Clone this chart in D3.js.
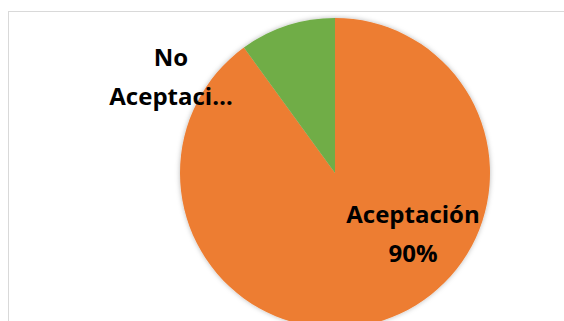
<!DOCTYPE html>
<html>
<head>
<meta charset="utf-8">
<script src="https://cdn.jsdelivr.net/npm/d3@7"></script>
<style>
  html, body { margin: 0; padding: 0; background: #fff; overflow: hidden; }
  svg { display: block; }
</style>
</head>
<body>
<script>
// chart data
const categories = ['Aceptación', 'No Aceptación'];
const values = [90, 10];
const colors = ['#ED7D31', '#70AD47'];
// visible label lines as drawn in the reference (second one is cut off)
const labelLines = [['Aceptación', '90%'], ['No', 'Aceptaci…']];

const width = 564, height = 321;
const cx = 335, cy = 173, radius = 155;

const svg = d3.select('body').append('svg')
  .attr('width', width)
  .attr('height', height);

/** soft outer shadow like the office style */
const defs = svg.append('defs');
const shadow = defs.append('filter')
  .attr('id', 'shadow')
  .attr('x', '-20%').attr('y', '-20%')
  .attr('width', '140%').attr('height', '140%');
shadow.append('feGaussianBlur').attr('in', 'SourceAlpha').attr('stdDeviation', 2.5).attr('result', 'blur');
shadow.append('feFlood').attr('flood-color', '#000').attr('flood-opacity', 0.28);
shadow.append('feComposite').attr('in2', 'blur').attr('operator', 'in').attr('result', 'sh');
const merge = shadow.append('feMerge');
merge.append('feMergeNode').attr('in', 'sh');
merge.append('feMergeNode').attr('in', 'SourceGraphic');

// chart frame (runs off the right and bottom edges)
svg.append('rect')
  .attr('x', 8.5).attr('y', 11.5)
  .attr('width', 700).attr('height', 400)
  .attr('fill', '#fff')
  .attr('stroke', '#d9d9d9')
  .attr('stroke-width', 1);

const data = categories.map((c, i) => ({ name: c, value: values[i], lines: labelLines[i] }));

const pie = d3.pie()
  .value(d => d.value)
  .sort(null);

const arc = d3.arc()
  .innerRadius(0)
  .outerRadius(radius);

const g = svg.append('g')
  .attr('transform', `translate(${cx},${cy})`);

g.append('g')
  .attr('filter', 'url(#shadow)')
  .selectAll('path')
  .data(pie(data))
  .join('path')
  .attr('d', arc)
  .attr('fill', (d, i) => colors[i]);

// label anchors relative to the pie center
const labelPos = [[78, 50], [-164, -107]];
const lineGap = 38.5;

const labels = g.selectAll('text.lbl')
  .data(pie(data))
  .join('text')
  .attr('class', 'lbl')
  .attr('transform', (d, i) => `translate(${labelPos[i][0]},${labelPos[i][1]})`)
  .attr('text-anchor', 'middle')
  .attr('font-family', '"Open Sans", sans-serif')
  .attr('font-weight', 'bold')
  .attr('font-size', 24)
  .attr('fill', '#000');

labels.selectAll('tspan')
  .data(d => d.data.lines)
  .join('tspan')
  .attr('x', 0)
  .attr('y', (d, i) => i * lineGap)
  .text(d => d);
</script>
</body>
</html>
